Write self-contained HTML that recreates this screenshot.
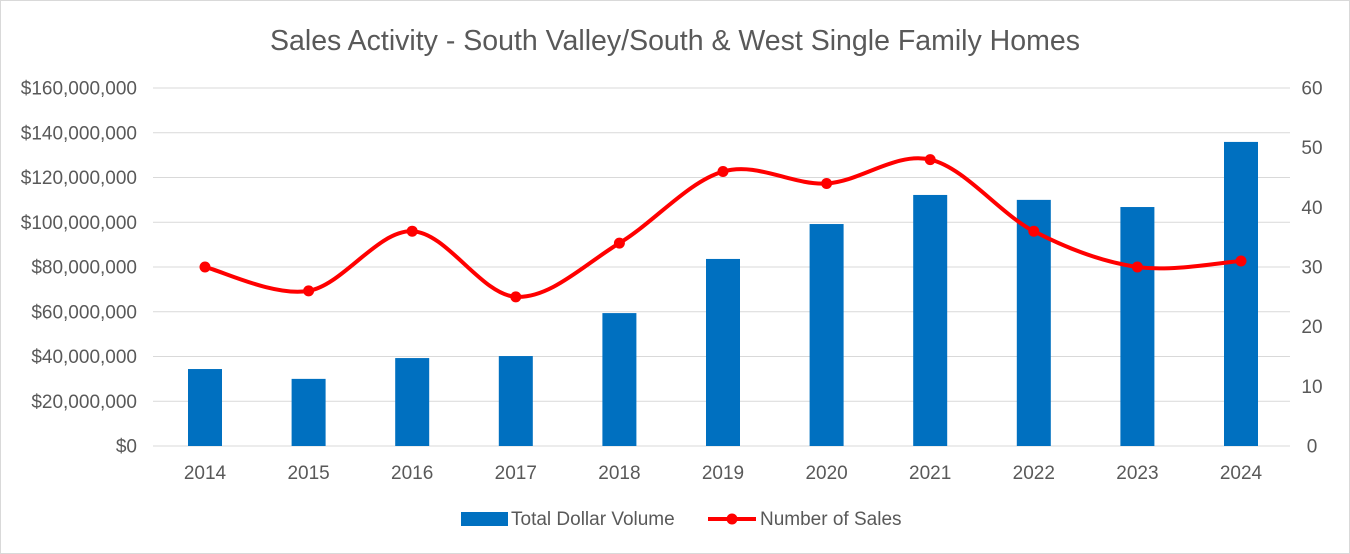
<!DOCTYPE html>
<html><head><meta charset="utf-8"><style>
body{margin:0;background:#fff;}
svg{display:block;font-family:"Liberation Sans",sans-serif;}
</style></head><body>
<svg id="chart" width="1350" height="554">
<rect x="0.5" y="0.5" width="1349" height="553" fill="#fff" stroke="#d9d9d9"/>
<text x="675" y="50" text-anchor="middle" font-size="28.5" fill="#595959">Sales Activity - South Valley/South &amp; West Single Family Homes</text>
<g id="grid"></g><g id="bars"></g><g id="line"></g><g id="labels"></g>
<g>
<rect x="461" y="512" width="47" height="14" fill="#0070c0"/>
<text x="511" y="525" font-size="19" fill="#595959">Total Dollar Volume</text>
<line x1="708" y1="519" x2="756" y2="519" stroke="#ff0000" stroke-width="4"/>
<circle cx="732" cy="519" r="5.5" fill="#ff0000"/>
<text x="760" y="525" font-size="19" fill="#595959">Number of Sales</text>
</g>
</svg>
<script>
const categories=["2014","2015","2016","2017","2018","2019","2020","2021","2022","2023","2024"];
const volume=[34.4,30.0,39.3,40.2,59.4,83.6,99.2,112.2,110.0,106.8,135.9];
const sales=[30,26,36,25,34,46,44,48,36,30,31];
const leftTicks=[0,20,40,60,80,100,120,140,160];
const rightTicks=[0,10,20,30,40,50,60];
const NS="http://www.w3.org/2000/svg";
const y0=446,yTop=88,xFirst=205,step=103.6;
const x=i=>xFirst+i*step;
const yL=v=>y0-(v/160)*(y0-yTop);
const yR=v=>y0-(v/60)*(y0-yTop);
function mk(tag,attrs,parent,txt){const e=document.createElementNS(NS,tag);for(const k in attrs)e.setAttribute(k,attrs[k]);if(txt!=null)e.textContent=txt;document.getElementById(parent).appendChild(e);return e;}
const fmt=v=>v===0?"$0":"$"+(v*1e6).toLocaleString("en-US");
leftTicks.forEach(v=>{
 const l=mk("line",{x1:153,x2:1290,y1:yL(v),y2:yL(v),stroke:"#d9d9d9","stroke-width":1},"grid");
 
 
 const t=mk("text",{x:137,y:yL(v)+6.5,"text-anchor":"end","font-size":19,fill:"#595959"},"labels",fmt(v));
 
 
});
rightTicks.forEach(v=>{
 const t=mk("text",{x:1312,y:yR(v)+6.5,"text-anchor":"middle","font-size":19,fill:"#595959"},"labels",String(v));
 
 
});
categories.forEach((c,i)=>{
 const b=mk("rect",{x:x(i)-17,y:yL(volume[i]),width:34,height:y0-yL(volume[i]),fill:"#0070c0"},"bars");
 
 
 const t=mk("text",{x:x(i),y:479,"text-anchor":"middle","font-size":19,fill:"#595959"},"labels",c);
 
 
});
const pts=sales.map((v,i)=>[x(i),yR(v)]);
let d="M"+pts[0][0]+","+pts[0][1];
for(let i=0;i<pts.length-1;i++){
 const p0=pts[Math.max(i-1,0)],p1=pts[i],p2=pts[i+1],p3=pts[Math.min(i+2,pts.length-1)];
 const t=1/6;
 d+=" C"+(p1[0]+(p2[0]-p0[0])*t)+","+(p1[1]+(p2[1]-p0[1])*t)+" "+(p2[0]-(p3[0]-p1[0])*t)+","+(p2[1]-(p3[1]-p1[1])*t)+" "+p2[0]+","+p2[1];
}
const path=mk("path",{d:d,fill:"none",stroke:"#ff0000","stroke-width":4},"line");


pts.forEach((p,i)=>{
 const c=mk("circle",{cx:p[0],cy:p[1],r:5.5,fill:"#ff0000"},"line");
 
 
});
</script>
</body></html>
